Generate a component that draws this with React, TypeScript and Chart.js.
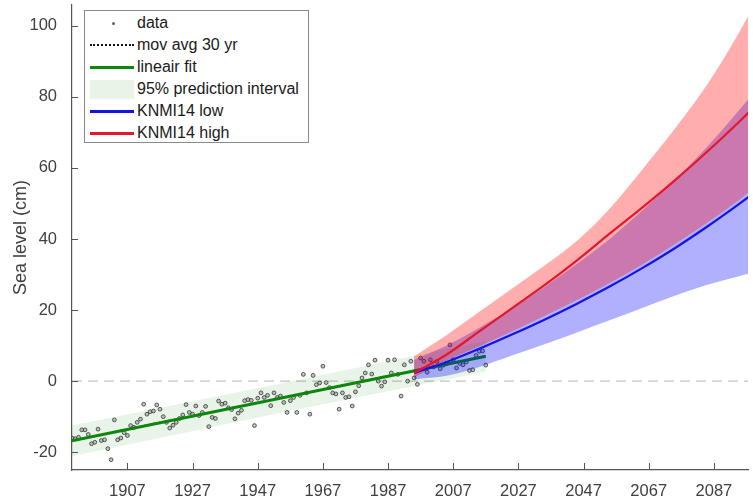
import React, { useEffect, useRef } from 'react';
import { Chart, registerables } from 'chart.js';

Chart.register(...registerables);

// ---------- data ----------
const seaLevelYears = [
  1890, 1891, 1892, 1893, 1894, 1895, 1896, 1897, 1898, 1899,
  1900, 1901, 1902, 1903, 1904, 1905, 1906, 1907, 1908, 1909,
  1910, 1911, 1912, 1913, 1914, 1915, 1916, 1917, 1918, 1919,
  1920, 1921, 1922, 1923, 1924, 1925, 1926, 1927, 1928, 1929,
  1930, 1931, 1932, 1933, 1934, 1935, 1936, 1937, 1938, 1939,
  1940, 1941, 1942, 1943, 1944, 1945, 1946, 1947, 1948, 1949,
  1950, 1951, 1952, 1953, 1954, 1955, 1956, 1957, 1958, 1959,
  1960, 1961, 1962, 1963, 1964, 1965, 1966, 1967, 1968, 1969,
  1970, 1971, 1972, 1973, 1974, 1975, 1976, 1977, 1978, 1979,
  1980, 1981, 1982, 1983, 1984, 1985, 1986, 1987, 1988, 1989,
  1990, 1991, 1992, 1993, 1994, 1995, 1996, 1997, 1998, 1999,
  2000, 2001, 2002, 2003, 2004, 2005, 2006, 2007, 2008, 2009,
  2010, 2011, 2012, 2013, 2014, 2015, 2016, 2017,
];
const seaLevelValues = [
  -16.0, -16.2, -15.8, -13.7, -13.7, -15.0, -17.6, -17.2, -13.5, -16.7,
  -16.5, -19.0, -22.1, -10.9, -16.5, -16.0, -14.5, -15.3, -12.5, -13.0,
  -11.6, -10.7, -6.5, -9.3, -8.6, -8.4, -6.7, -7.9, -10.0, -11.6,
  -13.2, -12.4, -11.6, -10.5, -9.5, -6.6, -8.8, -9.3, -7.0, -9.7,
  -8.8, -7.1, -12.8, -10.2, -10.5, -5.6, -6.5, -6.2, -7.5, -8.0,
  -10.6, -9.0, -8.2, -5.5, -5.2, -5.4, -12.5, -4.8, -3.3, -4.6,
  -4.0, -6.9, -3.3, -4.6, -4.2, -6.0, -8.8, -5.5, -4.6, -8.8,
  -4.0, 1.9, -3.3, -9.3, 1.6, -1.0, -0.5, 4.2, -0.4, -1.8,
  -3.3, -3.6, -7.9, -3.3, -4.6, -4.4, -7.0, -3.0, -1.3, 0.9,
  2.3, 4.6, 2.0, 5.9, 0.0, -1.4, -0.2, 5.9, 2.3, 6.0,
  1.9, -4.2, 4.6, 0.0, 5.6, 0.9, -0.9, 6.5, 5.6, 2.5,
  6.0, 4.0, 5.5, 3.5, 4.5, 5.0, 10.2, 6.0, 3.7, 5.0,
  4.6, 5.4, 3.0, 3.2, 7.2, 8.4, 8.5, 4.5,
];

const movAvgYears = [1905, 1910, 1915, 1920, 1925, 1930, 1935, 1940, 1945, 1950, 1955, 1960, 1965, 1970, 1975, 1980, 1985, 1990, 1995, 2002];
const movAvgValues = [-13.8, -12.9, -11.9, -11.0, -10.3, -9.4, -8.3, -7.2, -6.4, -5.5, -4.5, -3.7, -2.6, -1.9, -0.8, 0.2, 1.2, 2.1, 3.0, 4.3];

const fitYears = [1890, 2017];
const fitValues = [-16.8, 7.0];

const intervalYears = [1890, 1953, 2017];
const intervalUpper = [-12.5, -0.9, 11.3];
const intervalLower = [-21.1, -9.1, 2.7];

const knmiYears = [1995, 2005, 2015, 2025, 2035, 2045, 2055, 2065, 2075, 2085, 2095, 2100];
const lowMid = [2.3, 5.4, 9.1, 13.1, 17.3, 21.8, 26.6, 31.8, 37.4, 43.5, 50.0, 53.4];
const lowUpper = [6, 10, 15, 20.5, 26.5, 33, 40, 48, 56.5, 66, 76.5, 82];
const lowLower = [0.5, 1.5, 4, 7.2, 10.4, 13.7, 17.1, 20.6, 24.0, 27.1, 29.6, 30.6];
const highMid = [2.3, 7.5, 14, 20.5, 27, 34, 41.5, 48.8, 56.5, 64.6, 73.2, 77.7];
const highUpper = [7, 13, 19.5, 26, 32.5, 39.5, 48.5, 59.5, 71, 83.5, 98.5, 107];
const highLower = [1.0, 5.8, 9.8, 14.0, 18.3, 22.8, 27.6, 32.8, 38.5, 44.6, 51.2, 54.7];

const zeroLineYears = [1890, 2100];
const zeroLineValues = [0, 0];

const xTickYears = [1907, 1927, 1947, 1967, 1987, 2007, 2027, 2047, 2067, 2087];
const yTickValues = [-20, 0, 20, 40, 60, 80, 100];

const legendLabels = ['data', 'mov avg 30 yr', 'lineair fit', '95% prediction interval', 'KNMI14 low', 'KNMI14 high'];

// ---------- helpers ----------
const pts = (xs: number[], ys: number[]) => xs.map((x, i) => ({ x, y: ys[i] }));

const GREEN = '#0c870c';
const BLUE = '#1414e6';
const RED = '#e3182c';
const BAND_GREEN = 'rgba(0,128,0,0.09)';
const BAND_BLUE = 'rgba(0,0,255,0.31)';
const BAND_RED = 'rgba(255,0,0,0.32)';
const AXIS = '#555555';
const TEXT = '#404040';
const FONT = "'Liberation Sans', Arial, sans-serif";

const inwardTicks = {
  id: 'inwardTicks',
  afterDraw(chart: any) {
    const { ctx, chartArea, scales } = chart;
    ctx.save();
    ctx.strokeStyle = AXIS;
    ctx.lineWidth = 1;
    ctx.beginPath();
    scales.x.ticks.forEach((t: any) => {
      const px = Math.round(scales.x.getPixelForValue(t.value)) + 0.5;
      ctx.moveTo(px, chartArea.bottom);
      ctx.lineTo(px, chartArea.bottom - 7);
    });
    scales.y.ticks.forEach((t: any) => {
      const py = Math.round(scales.y.getPixelForValue(t.value)) + 0.5;
      ctx.moveTo(chartArea.left, py);
      ctx.lineTo(chartArea.left + 6, py);
    });
    ctx.stroke();
    ctx.restore();
  },
};

function Legend() {
  const rowH = 22;
  const symbol = (i: number) => {
    const base: React.CSSProperties = { position: 'absolute', left: 5, width: 44 };
    if (i === 0)
      return <div style={{ position: 'absolute', left: 27, top: 10, width: 3, height: 3, borderRadius: 2, background: '#666' }} />;
    if (i === 1) return <div style={{ ...base, top: 10, borderTop: '2px dotted #111' }} />;
    if (i === 2) return <div style={{ ...base, top: 10, borderTop: `3px solid ${GREEN}` }} />;
    if (i === 3) return <div style={{ ...base, top: 2, height: 19, background: 'rgba(0,128,0,0.09)' }} />;
    if (i === 4) return <div style={{ ...base, top: 10, borderTop: `3px solid ${BLUE}` }} />;
    return <div style={{ ...base, top: 10, borderTop: `3px solid ${RED}` }} />;
  };
  return (
    <div
      style={{
        position: 'absolute',
        left: 84,
        top: 10,
        width: 223,
        height: 131,
        border: '1px solid #8a8a8a',
        background: '#fff',
        fontFamily: FONT,
        fontSize: 16,
        lineHeight: '18px',
        color: '#1a1a1a',
      }}
    >
      {legendLabels.map((lab, i) => (
        <div key={lab} style={{ position: 'absolute', left: 0, top: 1 + i * rowH, height: rowH, width: '100%' }}>
          {symbol(i)}
          <span style={{ position: 'absolute', left: 52, top: 2, whiteSpace: 'nowrap' }}>{lab}</span>
        </div>
      ))}
    </div>
  );
}

export default function App() {
  const ref = useRef<HTMLCanvasElement | null>(null);

  useEffect(() => {
    if (!ref.current) return;
    Chart.defaults.font.family = FONT;
    const line = { pointRadius: 0, fill: false, tension: 0 };
    const smooth = { cubicInterpolationMode: 'monotone' };
    const tickFont = { family: FONT, size: 16.5 };
    const chart = new Chart(ref.current, {
      type: 'line',
      data: {
        datasets: [
          // 0 zero line
          { ...line, data: pts(zeroLineYears, zeroLineValues), borderColor: '#c4c4c4', borderWidth: 1.2, borderDash: [10, 6], order: 20 },
          // 1 interval lower
          { ...line, data: pts(intervalYears, intervalLower), borderWidth: 0, borderColor: 'transparent', order: 19 },
          // 2 interval upper
          { ...line, data: pts(intervalYears, intervalUpper), borderWidth: 0, borderColor: 'transparent', backgroundColor: BAND_GREEN, fill: { target: 1 }, order: 18 },
          // 3 data
          {
            data: pts(seaLevelYears, seaLevelValues),
            showLine: false,
            pointRadius: 1.9,
            pointBorderWidth: 0.9,
            pointBorderColor: 'rgba(45,45,45,0.85)',
            pointBackgroundColor: 'rgba(160,160,160,0.6)',
            order: 17,
          },
          // 4 moving average
          { ...line, data: pts(movAvgYears, movAvgValues), borderColor: '#111', borderWidth: 1.2, borderDash: [1.5, 1.5], order: 16 },
          // 5 linear fit
          { ...line, data: pts(fitYears, fitValues), borderColor: GREEN, borderWidth: 3, order: 15 },
          // 6 low lower
          { ...line, ...smooth, data: pts(knmiYears, lowLower), borderWidth: 0, borderColor: 'transparent', order: 14 },
          // 7 low upper
          { ...line, ...smooth, data: pts(knmiYears, lowUpper), borderWidth: 0, borderColor: 'transparent', backgroundColor: BAND_BLUE, fill: { target: 6 }, order: 13 },
          // 8 high lower
          { ...line, ...smooth, data: pts(knmiYears, highLower), borderWidth: 0, borderColor: 'transparent', order: 12 },
          // 9 high upper
          { ...line, ...smooth, data: pts(knmiYears, highUpper), borderWidth: 0, borderColor: 'transparent', backgroundColor: BAND_RED, fill: { target: 8 }, order: 11 },
          // 10 low mid
          { ...line, ...smooth, data: pts(knmiYears, lowMid), borderColor: BLUE, borderWidth: 2.2, order: 2 },
          // 11 high mid
          { ...line, ...smooth, data: pts(knmiYears, highMid), borderColor: RED, borderWidth: 2.2, order: 1 },
        ] as any,
      },
      options: {
        animation: false,
        responsive: false,
        devicePixelRatio: 1,
        layout: { padding: 0 },
        font: { family: FONT },
        plugins: { legend: { display: false }, tooltip: { enabled: false } },
        scales: {
          x: {
            type: 'linear',
            min: 1890,
            max: 2097.5,
            z: 1,
            grid: { display: false },
            border: { display: true, color: AXIS, width: 1.2 },
            ticks: {
              autoSkip: false,
              maxRotation: 0,
              padding: 4,
              color: TEXT,
              font: tickFont,
              callback: (v: any) => String(v),
            },
            afterBuildTicks: (scale: any) => {
              scale.ticks = xTickYears.map((v) => ({ value: v }));
            },
            afterFit: (scale: any) => {
              scale.height = 34;
              scale.paddingLeft = 0;
              scale.paddingRight = 0;
            },
          },
          y: {
            type: 'linear',
            min: -25,
            max: 105.85,
            z: 1,
            grid: { display: false },
            border: { display: true, color: AXIS, width: 1.2 },
            title: { display: true, text: 'Sea level (cm)', color: TEXT, font: { family: FONT, size: 18 }, padding: { top: 10, bottom: 0 } },
            ticks: { padding: 7, color: TEXT, font: tickFont, callback: (v: any) => String(v) },
            afterBuildTicks: (scale: any) => {
              scale.ticks = yTickValues.map((v) => ({ value: v }));
            },
            afterFit: (scale: any) => {
              scale.width = 72;
              scale.paddingTop = 0;
              scale.paddingBottom = 0;
            },
          },
        },
      } as any,
      plugins: [inwardTicks],
    });
    return () => chart.destroy();
  }, []);

  return (
    <div style={{ position: 'absolute', left: 0, top: 0, width: 753, height: 504, background: '#fff' }}>
      <canvas ref={ref} width={753} height={504} style={{ display: 'block' }} />
      <Legend />
    </div>
  );
}
